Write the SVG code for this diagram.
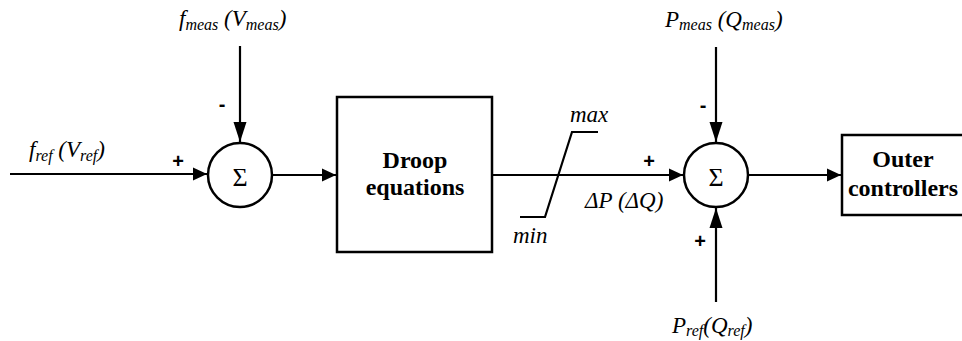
<svg xmlns="http://www.w3.org/2000/svg" width="962" height="341" viewBox="0 0 962 341">
<style>
.ln{stroke:#000;stroke-width:2.2;fill:none}
.bx{stroke:#000;stroke-width:2.5;fill:#fff}
.lbl{font-style:italic;font-size:23px;fill:#000}
.sub{font-size:16px}
.bt{font-weight:bold;font-size:24px;fill:#000;text-anchor:middle}
.sig{font-size:26px;fill:#000;text-anchor:middle}
.sg{font-weight:bold;font-size:20px;fill:#000;text-anchor:middle}
</style>
<defs>
<marker id="ah" markerUnits="userSpaceOnUse" markerWidth="15" markerHeight="14" refX="14" refY="7" orient="auto">
<path d="M0,0.5 L14,7 L0,13.5 z" fill="#000"/>
</marker>
<marker id="av" markerUnits="userSpaceOnUse" markerWidth="21" markerHeight="14" refX="20" refY="7" orient="auto">
<path d="M0,0.5 L20,7 L0,13.5 z" fill="#000"/>
</marker>
</defs>
<rect width="962" height="341" fill="#fff"/>
<g id="connectors">
<line class="ln" x1="10" y1="174" x2="207" y2="174" marker-end="url(#ah)"/>
<line class="ln" x1="240" y1="46" x2="240" y2="142" marker-end="url(#av)"/>
<line class="ln" x1="272" y1="175" x2="336" y2="175" marker-end="url(#ah)"/>
<line class="ln" x1="492" y1="175" x2="683" y2="175" marker-end="url(#ah)"/>
<line class="ln" x1="716" y1="47" x2="716" y2="142" marker-end="url(#av)"/>
<line class="ln" x1="716" y1="302" x2="716" y2="208" marker-end="url(#av)"/>
<line class="ln" x1="748" y1="175" x2="841" y2="175" marker-end="url(#ah)"/>
</g>
<g id="sum1" font-family="'Liberation Serif', 'DejaVu Serif', serif">
<circle cx="240" cy="175" r="32" class="bx"/>
<text class="sig" x="240" y="186">Σ</text>
<text class="sg" x="178" y="168" font-family="'Liberation Sans', Arial, sans-serif">+</text>
<text class="sg" x="222" y="111" font-family="'Liberation Sans', Arial, sans-serif">-</text>
</g>
<g id="droop" font-family="'Liberation Serif', 'DejaVu Serif', serif">
<rect x="337" y="97" width="155" height="155" class="bx"/>
<text class="bt" x="415" y="168">Droop</text>
<text class="bt" x="415" y="195">equations</text>
</g>
<g id="saturation" font-family="'Liberation Serif', 'DejaVu Serif', serif">
<polyline class="ln" stroke-width="2.6" points="520,217 545,217 572,132 598,132"/>
<text class="lbl" x="570" y="122">max</text>
<text class="lbl" x="513" y="243">min</text>
</g>
<g id="sum2" font-family="'Liberation Serif', 'DejaVu Serif', serif">
<circle cx="716" cy="175" r="32" class="bx"/>
<text class="sig" x="716" y="186">Σ</text>
<text class="sg" x="649" y="168" font-family="'Liberation Sans', Arial, sans-serif">+</text>
<text class="sg" x="703" y="112" font-family="'Liberation Sans', Arial, sans-serif">-</text>
<text class="sg" x="700" y="248" font-family="'Liberation Sans', Arial, sans-serif">+</text>
</g>
<g id="outer" font-family="'Liberation Serif', 'DejaVu Serif', serif">
<rect x="842" y="135" width="125" height="80" class="bx"/>
<text class="bt" x="903" y="167">Outer</text>
<text class="bt" x="903" y="196">controllers</text>
</g>
<g id="labels" font-family="'Liberation Serif', 'DejaVu Serif', serif">
<text class="lbl" x="179" y="26">f<tspan class="sub" dy="4">meas</tspan><tspan dy="-4"> (V</tspan><tspan class="sub" dy="4">meas</tspan><tspan dy="-4">)</tspan></text>
<text class="lbl" x="29" y="157">f<tspan class="sub" dy="4">ref</tspan><tspan dy="-4"> (V</tspan><tspan class="sub" dy="4">ref</tspan><tspan dy="-4">)</tspan></text>
<text class="lbl" x="585" y="208">ΔP (ΔQ)</text>
<text class="lbl" x="665" y="27">P<tspan class="sub" dy="3">meas</tspan><tspan dy="-3"> (Q</tspan><tspan class="sub" dy="3">meas</tspan><tspan dy="-3">)</tspan></text>
<text class="lbl" x="672" y="333">P<tspan class="sub" dy="3">ref</tspan><tspan dy="-3">(Q</tspan><tspan class="sub" dy="3">ref</tspan><tspan dy="-3">)</tspan></text>
</g>
</svg>
